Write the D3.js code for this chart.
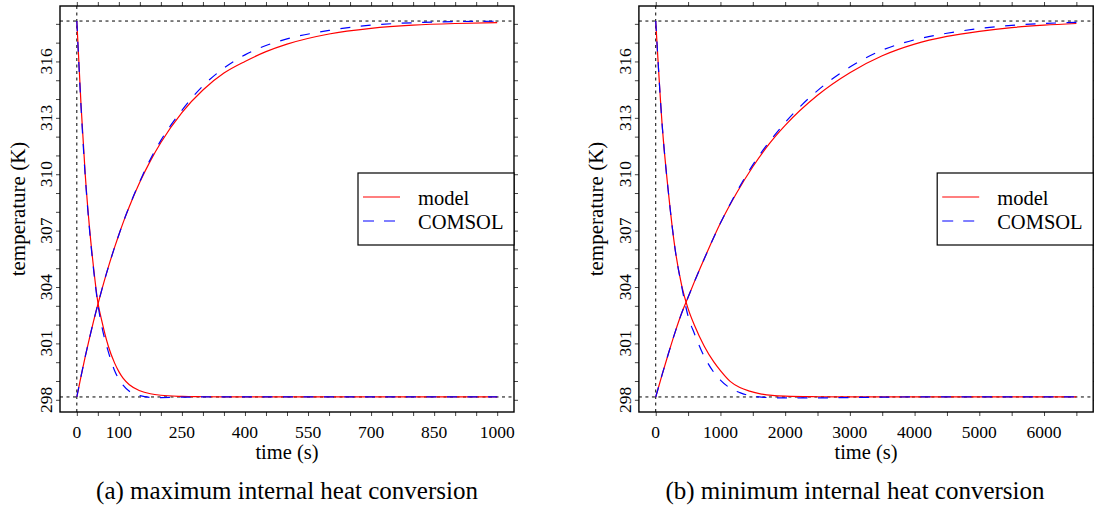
<!DOCTYPE html>
<html>
<head>
<meta charset="utf-8">
<script src="https://cdn.jsdelivr.net/npm/d3@7"></script>
<style>
body { margin: 0; background: #fff; }
text { font-family: "Liberation Serif", "DejaVu Serif", serif; fill: #000; }
</style>
</head>
<body>
<div id="chart"></div>
<script>
// (a) maximum internal heat conversion
var timeA = [0, 10, 20, 30, 40, 50, 60, 75, 90, 100, 110, 125, 150, 175, 200, 250, 300, 350, 400, 450, 500, 600, 700, 800, 900, 1000];
var modelHeatA = [298.15, 299.25, 300.29, 301.27, 302.2, 303.07, 303.9, 305.06, 306.12, 306.78, 307.41, 308.28, 309.58, 310.71, 311.69, 313.28, 314.48, 315.38, 316.0, 316.52, 316.92, 317.46, 317.76, 317.93, 318.02, 318.07];
var comsolHeatA = [298.15, 299.25, 300.29, 301.27, 302.2, 303.07, 303.9, 305.06, 306.12, 306.78, 307.42, 308.3, 309.62, 310.8, 311.8, 313.4, 314.7, 315.65, 316.35, 316.85, 317.2, 317.65, 317.93, 318.06, 318.12, 318.14];
var modelCoolA = [318.15, 313.7, 310.0, 307.2, 305.0, 303.2, 302.15, 300.85, 299.95, 299.5, 299.15, 298.8, 298.48, 298.32, 298.24, 298.18, 298.16, 298.15, 298.15, 298.15, 298.15, 298.15, 298.15, 298.15, 298.15, 298.15];
var comsolCoolA = [318.15, 313.6, 309.9, 307.1, 304.9, 303.1, 301.85, 300.55, 299.55, 299.1, 298.78, 298.45, 298.22, 298.13, 298.12, 298.14, 298.15, 298.15, 298.15, 298.15, 298.15, 298.15, 298.15, 298.15, 298.15, 298.15];
var xLabelsA = [0, 100, 250, 400, 550, 700, 850, 1000];

// (b) minimum internal heat conversion
var timeHeatB = [0, 100, 200, 300, 400, 500, 600, 750, 1000, 1250, 1500, 1750, 2000, 2500, 3000, 3500, 4000, 4500, 5000, 5500, 6000, 6500];
var modelHeatB = [298.15, 299.35, 300.5, 301.6, 302.6, 303.45, 304.3, 305.5, 307.4, 309.0, 310.4, 311.6, 312.6, 314.2, 315.4, 316.3, 316.92, 317.33, 317.6, 317.8, 317.93, 318.02];
var comsolHeatB = [298.15, 299.35, 300.5, 301.6, 302.6, 303.45, 304.3, 305.5, 307.4, 309.05, 310.5, 311.7, 312.75, 314.45, 315.7, 316.6, 317.15, 317.5, 317.75, 317.92, 318.02, 318.08];
var timeCoolB = [0, 100, 200, 300, 400, 500, 600, 750, 900, 1000, 1150, 1300, 1450, 1600, 1800, 2000, 2500, 3000, 3500, 4000, 5000, 6500];
var modelCoolB = [318.15, 312.6, 308.9, 306.0, 304.1, 302.85, 301.95, 300.85, 300.0, 299.55, 298.98, 298.65, 298.46, 298.33, 298.23, 298.19, 298.16, 298.15, 298.15, 298.15, 298.15, 298.15];
var comsolCoolB = [318.15, 312.6, 308.9, 306.0, 304.05, 302.45, 301.5, 300.3, 299.45, 299.05, 298.62, 298.38, 298.22, 298.15, 298.11, 298.1, 298.1, 298.12, 298.14, 298.15, 298.15, 298.15];
var xLabelsB = [0, 1000, 2000, 3000, 4000, 5000, 6000];

var yLabels = [298, 301, 304, 307, 310, 313, 316];
var refTemps = [298.15, 318.15];
var legendKeys = ["model", "COMSOL"];
var captions = ["(a) maximum internal heat conversion", "(b) minimum internal heat conversion"];

var w = 1094;
var h = 506;
var plotTop = 6;
var plotBottom = 412;

var svg = d3.select("#chart")
            .append("svg")
            .attr("width", w)
            .attr("height", h);

function drawPanel(p) {
    var xScale = d3.scaleLinear()
                   .domain(p.xDomain)
                   .range([p.left, p.right]);
    var yScale = d3.scaleLinear()
                   .domain([297.35, 318.95])
                   .range([plotBottom, plotTop]);

    var g = svg.append("g");

    // tick marks on all four sides, pointing out
    var yMinor = d3.range(298, 318.5, 1);
    g.append("g")
     .attr("transform", "translate(0," + plotBottom + ")")
     .call(d3.axisBottom(xScale).tickValues(p.xMinor).tickSize(4).tickFormat(""));
    g.append("g")
     .attr("transform", "translate(0," + plotTop + ")")
     .call(d3.axisTop(xScale).tickValues(p.xMinor).tickSize(4).tickFormat(""));
    g.append("g")
     .attr("transform", "translate(" + p.left + ",0)")
     .call(d3.axisLeft(yScale).tickValues(yMinor).tickSize(4).tickFormat(""));
    g.append("g")
     .attr("transform", "translate(" + p.right + ",0)")
     .call(d3.axisRight(yScale).tickValues(yMinor).tickSize(4).tickFormat(""));
    g.selectAll(".domain").remove();
    g.selectAll(".tick line").attr("stroke", "#444").attr("stroke-width", 1);

    // dotted reference lines
    g.selectAll(".ref")
     .data(refTemps)
     .enter()
     .append("line")
     .attr("x1", p.left)
     .attr("x2", p.right)
     .attr("y1", function(d) { return yScale(d); })
     .attr("y2", function(d) { return yScale(d); })
     .attr("stroke", "#000")
     .attr("stroke-width", 1)
     .attr("stroke-dasharray", "3,3.5");
    g.append("line")
     .attr("x1", xScale(0))
     .attr("x2", xScale(0))
     .attr("y1", plotTop)
     .attr("y2", plotBottom)
     .attr("stroke", "#000")
     .attr("stroke-width", 1)
     .attr("stroke-dasharray", "3,3.5");

    function line(times) {
        return d3.line()
                 .x(function(d, i) { return xScale(times[i]); })
                 .y(function(d) { return yScale(d); })
                 .curve(d3.curveMonotoneX);
    }

    // model first, COMSOL dashes on top
    var series = [
        {t: p.heatTime, v: p.modelHeat, c: "#ff0000", dash: null},
        {t: p.coolTime, v: p.modelCool, c: "#ff0000", dash: null},
        {t: p.heatTime, v: p.comsolHeat, c: "#0000ff", dash: "10,10.5"},
        {t: p.coolTime, v: p.comsolCool, c: "#0000ff", dash: "10,10.5"}
    ];
    series.forEach(function(s) {
        g.append("path")
         .datum(s.v)
         .attr("d", line(s.t))
         .attr("fill", "none")
         .attr("stroke", s.c)
         .attr("stroke-width", 1.2)
         .attr("stroke-dasharray", s.dash);
    });

    // frame
    g.append("rect")
     .attr("x", p.left)
     .attr("y", plotTop)
     .attr("width", p.right - p.left)
     .attr("height", plotBottom - plotTop)
     .attr("fill", "none")
     .attr("stroke", "#000")
     .attr("stroke-width", 1.4);

    // tick labels
    g.selectAll(".xlab")
     .data(p.xLabels)
     .enter()
     .append("text")
     .attr("x", function(d) { return xScale(d); })
     .attr("y", 438)
     .attr("text-anchor", "middle")
     .style("font-size", "17.5px")
     .text(function(d) { return d; });
    g.selectAll(".ylab")
     .data(yLabels)
     .enter()
     .append("text")
     .attr("transform", function(d) { return "translate(" + (p.left - 8) + "," + yScale(d) + ") rotate(-90)"; })
     .attr("text-anchor", "middle")
     .style("font-size", "17.5px")
     .text(function(d) { return d; });

    // axis labels
    g.append("text")
     .attr("x", (p.left + p.right) / 2)
     .attr("y", 458.5)
     .attr("text-anchor", "middle")
     .style("font-size", "20.5px")
     .text("time (s)");
    g.append("text")
     .attr("transform", "translate(" + (p.left - 35.5) + "," + (plotTop + plotBottom) / 2 + ") rotate(-90)")
     .attr("text-anchor", "middle")
     .style("font-size", "21px")
     .text("temperature (K)");

    // legend
    var lx = p.right - 156;
    g.append("rect")
     .attr("x", lx)
     .attr("y", 173)
     .attr("width", 156)
     .attr("height", 72)
     .attr("fill", "#fff")
     .attr("stroke", "#000")
     .attr("stroke-width", 1.2);
    var color = d3.scaleOrdinal().domain(legendKeys).range(["#ff0000", "#0000ff"]);
    g.selectAll(".legline")
     .data(legendKeys)
     .enter()
     .append("line")
     .attr("x1", lx + 5)
     .attr("x2", lx + 42)
     .attr("y1", function(d, i) { return 197 + i * 24; })
     .attr("y2", function(d, i) { return 197 + i * 24; })
     .attr("stroke", function(d) { return color(d); })
     .attr("stroke-width", 1.2)
     .attr("stroke-dasharray", function(d, i) { return i ? "11,10" : null; });
    g.selectAll(".legtext")
     .data(legendKeys)
     .enter()
     .append("text")
     .attr("x", lx + 60)
     .attr("y", function(d, i) { return 205 + i * 23.5; })
     .style("font-size", "20.5px")
     .text(function(d) { return d; });

    // caption
    svg.append("text")
       .attr("x", p.captionX)
       .attr("y", 499)
       .attr("text-anchor", "middle")
       .style("font-size", "25px")
       .text(p.caption);
}

drawPanel({
    left: 60, right: 514, xDomain: [-40, 1040],
    xMinor: d3.range(0, 1001, 50), xLabels: xLabelsA,
    heatTime: timeA, coolTime: timeA,
    modelHeat: modelHeatA, comsolHeat: comsolHeatA,
    modelCool: modelCoolA, comsolCool: comsolCoolA,
    caption: captions[0], captionX: 287
});
drawPanel({
    left: 638.9, right: 1093.2, xDomain: [-260, 6760],
    xMinor: d3.range(0, 6501, 500), xLabels: xLabelsB,
    heatTime: timeHeatB, coolTime: timeCoolB,
    modelHeat: modelHeatB, comsolHeat: comsolHeatB,
    modelCool: modelCoolB, comsolCool: comsolCoolB,
    caption: captions[1], captionX: 855
});
</script>
</body>
</html>
